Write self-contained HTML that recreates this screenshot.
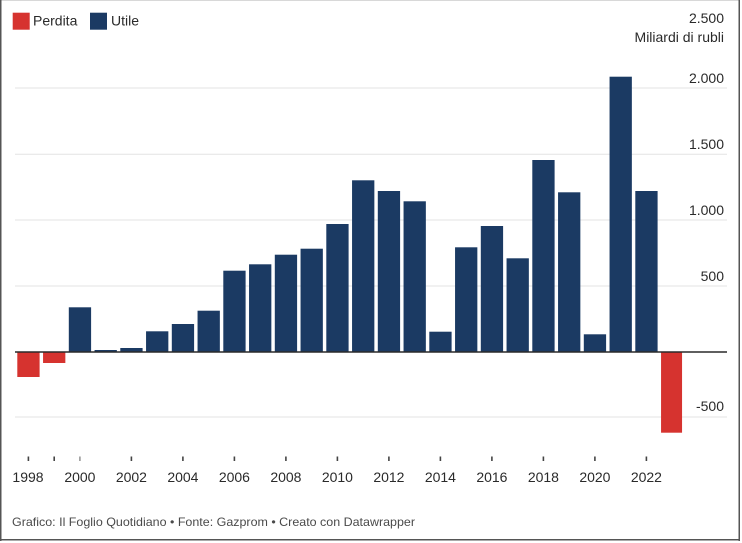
<!DOCTYPE html>
<html>
<head>
<meta charset="utf-8">
<style>
  html, body { margin: 0; padding: 0; background: #fff; }
  body { width: 742px; height: 543px; overflow: hidden; }
  svg { display: block; }
  text { font-family: "Liberation Sans", sans-serif; }
</style>
</head>
<body>
<svg width="742" height="543" viewBox="0 0 742 543" xmlns="http://www.w3.org/2000/svg">
  <rect x="0" y="0" width="742" height="543" fill="#fff"/>
  <!-- frame -->
  <line x1="0" y1="0.5" x2="740" y2="0.5" stroke="#d8d8d8" stroke-width="1"/>
  <line x1="0.75" y1="0" x2="0.75" y2="541" stroke="#555" stroke-width="1.5"/>
  <line x1="739.25" y1="0" x2="739.25" y2="541" stroke="#555" stroke-width="1.5"/>
  <line x1="0" y1="539.75" x2="740" y2="539.75" stroke="#555" stroke-width="1.5"/>

  <!-- legend -->
  <rect x="12.7" y="12.7" width="17" height="17" fill="#d6332f"/>
  <text x="33" y="25.5" font-size="14" fill="#2a2a2a">Perdita</text>
  <rect x="90" y="12.7" width="17" height="17" fill="#1b3a63"/>
  <text x="111" y="25.5" font-size="14" fill="#2a2a2a">Utile</text>

  <!-- gridlines -->
  <g stroke="#e3e3e3" stroke-width="1">
    <line x1="15" y1="88" x2="727" y2="88"/>
    <line x1="15" y1="154.3" x2="727" y2="154.3"/>
    <line x1="15" y1="220" x2="727" y2="220"/>
    <line x1="15" y1="286" x2="727" y2="286"/>
    <line x1="15" y1="417" x2="727" y2="417"/>
  </g>

  <!-- y labels -->
  <g font-size="14" fill="#2a2a2a" text-anchor="end">
    <text x="724" y="23">2.500</text>
    <text x="724" y="42">Miliardi di rubli</text>
    <text x="724" y="83">2.000</text>
    <text x="724" y="149">1.500</text>
    <text x="724" y="215">1.000</text>
    <text x="724" y="281">500</text>
    <text x="724" y="411">-500</text>
  </g>

  <!-- bars -->
  <g>
    <rect x="17.3" y="352" width="22.3" height="25" fill="#d6332f"/>
    <rect x="43.05" y="352" width="22.3" height="11" fill="#d6332f"/>
    <rect x="68.8" y="307.3" width="22.3" height="44.7" fill="#1b3a63"/>
    <rect x="94.55" y="350" width="22.3" height="2" fill="#1b3a63"/>
    <rect x="120.3" y="348" width="22.3" height="4" fill="#1b3a63"/>
    <rect x="146.05" y="331.3" width="22.3" height="20.7" fill="#1b3a63"/>
    <rect x="171.8" y="324" width="22.3" height="28" fill="#1b3a63"/>
    <rect x="197.55" y="310.7" width="22.3" height="41.3" fill="#1b3a63"/>
    <rect x="223.3" y="270.7" width="22.3" height="81.3" fill="#1b3a63"/>
    <rect x="249.05" y="264.3" width="22.3" height="87.7" fill="#1b3a63"/>
    <rect x="274.8" y="254.7" width="22.3" height="97.3" fill="#1b3a63"/>
    <rect x="300.55" y="248.7" width="22.3" height="103.3" fill="#1b3a63"/>
    <rect x="326.3" y="224" width="22.3" height="128" fill="#1b3a63"/>
    <rect x="352.05" y="180.3" width="22.3" height="171.7" fill="#1b3a63"/>
    <rect x="377.8" y="191" width="22.3" height="161" fill="#1b3a63"/>
    <rect x="403.55" y="201.3" width="22.3" height="150.7" fill="#1b3a63"/>
    <rect x="429.3" y="331.7" width="22.3" height="20.3" fill="#1b3a63"/>
    <rect x="455.05" y="247.3" width="22.3" height="104.7" fill="#1b3a63"/>
    <rect x="480.8" y="226" width="22.3" height="126" fill="#1b3a63"/>
    <rect x="506.55" y="258.3" width="22.3" height="93.7" fill="#1b3a63"/>
    <rect x="532.3" y="160" width="22.3" height="192" fill="#1b3a63"/>
    <rect x="558.05" y="192.3" width="22.3" height="159.7" fill="#1b3a63"/>
    <rect x="583.8" y="334.3" width="22.3" height="17.7" fill="#1b3a63"/>
    <rect x="609.55" y="76.7" width="22.3" height="275.3" fill="#1b3a63"/>
    <rect x="635.3" y="191" width="22.3" height="161" fill="#1b3a63"/>
    <rect x="661.05" y="352" width="21" height="80.7" fill="#d6332f"/>
  </g>

  <!-- zero baseline -->
  <line x1="15" y1="352" x2="727" y2="352" stroke="#2a2a2a" stroke-width="1.5"/>

  <!-- x ticks -->
  <g stroke="#444" stroke-width="1.6">
    <line x1="28.4" y1="456.5" x2="28.4" y2="461"/>
    <line x1="54.2" y1="456.5" x2="54.2" y2="461"/>
    <line x1="79.9" y1="456.5" x2="79.9" y2="461" stroke="#999"/>
    <line x1="131.4" y1="456.5" x2="131.4" y2="461"/>
    <line x1="182.9" y1="456.5" x2="182.9" y2="461"/>
    <line x1="234.4" y1="456.5" x2="234.4" y2="461"/>
    <line x1="285.9" y1="456.5" x2="285.9" y2="461"/>
    <line x1="337.4" y1="456.5" x2="337.4" y2="461"/>
    <line x1="388.9" y1="456.5" x2="388.9" y2="461"/>
    <line x1="440.4" y1="456.5" x2="440.4" y2="461"/>
    <line x1="491.9" y1="456.5" x2="491.9" y2="461"/>
    <line x1="543.4" y1="456.5" x2="543.4" y2="461"/>
    <line x1="594.9" y1="456.5" x2="594.9" y2="461"/>
    <line x1="646.4" y1="456.5" x2="646.4" y2="461"/>
  </g>

  <!-- x labels -->
  <g font-size="14" fill="#2a2a2a" text-anchor="middle">
    <text x="28" y="482">1998</text>
    <text x="79.9" y="482">2000</text>
    <text x="131.4" y="482">2002</text>
    <text x="182.9" y="482">2004</text>
    <text x="234.4" y="482">2006</text>
    <text x="285.9" y="482">2008</text>
    <text x="337.4" y="482">2010</text>
    <text x="388.9" y="482">2012</text>
    <text x="440.4" y="482">2014</text>
    <text x="491.9" y="482">2016</text>
    <text x="543.4" y="482">2018</text>
    <text x="594.9" y="482">2020</text>
    <text x="646.4" y="482">2022</text>
  </g>

  <!-- footer -->
  <text x="12" y="526" font-size="12" fill="#4a4a4a" textLength="403" lengthAdjust="spacingAndGlyphs">Grafico: Il Foglio Quotidiano • Fonte: Gazprom • Creato con Datawrapper</text>
</svg>
</body>
</html>
